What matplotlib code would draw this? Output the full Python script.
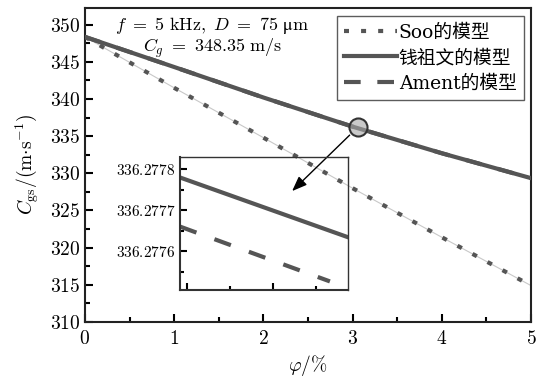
import matplotlib
matplotlib.use("Agg")
import matplotlib.pyplot as plt
from matplotlib.ticker import MultipleLocator, FuncFormatter

plt.rcParams['font.family'] = ['DejaVu Serif', 'Noto Sans CJK SC']
plt.rcParams['mathtext.fontset'] = 'cm'

# main curves
phi = [0, 1, 2, 3, 4, 5]
c_qian = [348.35, 344.3, 340.2, 336.28, 332.7, 329.35]
c_soo = [348.35, 341.5, 334.8, 328.0, 321.4, 314.9]
c_ament = [348.35, 344.3, 340.2, 336.28, 332.7, 329.35]

# zoomed-in region (inset), x is a local coordinate
ins_x_qian = [-0.078, 1.876]
ins_qian = [336.27778, 336.277634]
ins_x_ament = [-0.078, 1.666]
ins_ament = [336.27766, 336.277526]

dark = '#555555'

fig = plt.figure(figsize=(5.41, 3.76), dpi=100)
ax = fig.add_axes([0.157, 0.1436, 0.8245, 0.8364])

ax.plot(phi, c_soo, color='#c8c8c8', lw=0.8, zorder=2)
ax.plot(phi, c_soo, color=dark, lw=3, ls=(0, (1.2, 2.9)), label='Soo的模型', zorder=3)
ax.plot(phi, c_qian, color=dark, lw=3, label='钱祖文的模型', zorder=4)
ax.plot(phi, c_ament, color=dark, lw=3, ls=(0, (4, 4)), label='Ament的模型', zorder=3.5)

ax.set_xlim(0, 5)
ax.set_ylim(310, 352.3)
ax.xaxis.set_major_locator(MultipleLocator(1))
ax.xaxis.set_minor_locator(MultipleLocator(0.5))
ax.yaxis.set_major_locator(MultipleLocator(5))
ax.yaxis.set_minor_locator(MultipleLocator(2.5))
fmt = FuncFormatter(lambda v, p: r'$%g$' % v)
ax.xaxis.set_major_formatter(fmt)
ax.yaxis.set_major_formatter(fmt)
ax.tick_params(which='both', direction='in', width=1.5, labelsize=14)
ax.tick_params(which='major', length=6)
ax.tick_params(which='minor', length=3.5)
ax.tick_params(axis='x', which='major', pad=6)
for s in ax.spines.values():
    s.set_linewidth(1.5)
    s.set_color('#222222')

ax.set_xlabel(r'$\varphi/\%$', fontsize=14, labelpad=3)
ax.set_ylabel(r'$C_{\mathrm{gs}}/(\mathrm{m{\cdot}s^{-1}})$', fontsize=14, labelpad=6)

ax.text(0.285, 0.975, '$f\\ =\\ 5\\ \\mathrm{kHz},\\ D\\ =\\ 75\\ \\mathrm{\u03bcm}$\n$C_g\\ =\\ 348.35\\ \\mathrm{m/s}$',
        transform=ax.transAxes, ha='center', va='top', fontsize=13, linespacing=1.05,
        multialignment='center')

leg = ax.legend(loc='upper right', bbox_to_anchor=(0.993, 0.985),
                prop={'family': ['DejaVu Serif', 'Noto Sans CJK SC'], 'size': 13.5},
                handlelength=2.8, handletextpad=0.1, borderpad=0.4, labelspacing=0.4,
                fancybox=False, frameon=True, borderaxespad=0.2)
leg.get_frame().set_edgecolor('#333333')
leg.get_frame().set_linewidth(1.0)

# highlight circle and arrow
ax.plot([3.06], [336.2], 'o', ms=13, mfc=(0.65, 0.65, 0.65, 0.6), mec='#333333', mew=1.5, zorder=6)
ax.annotate('', xy=(2.30, 327.35), xytext=(2.99, 335.4),
            arrowprops=dict(arrowstyle='-|>,head_length=0.9,head_width=0.35', color='black', lw=1),
            zorder=6)

# inset
ins = fig.add_axes([0.3327, 0.2287, 0.3105, 0.3537])
ins.set_facecolor('none')
ins.plot(ins_x_qian, ins_qian, color=dark, lw=3)
ins.plot(ins_x_ament, ins_ament, color=dark, lw=3, ls=(0, (4.2, 4.6)))
ins.set_xlim(-0.078, 1.876)
ins.set_ylim(336.277505, 336.27783)
ins.xaxis.set_major_locator(MultipleLocator(1))
ins.xaxis.set_minor_locator(MultipleLocator(0.5))
ins.yaxis.set_major_locator(MultipleLocator(0.0001))
ins.yaxis.set_minor_locator(MultipleLocator(0.00005))
ins.yaxis.set_major_formatter(FuncFormatter(lambda v, p: r'$%.4f$' % v))
ins.xaxis.set_major_formatter(FuncFormatter(lambda v, p: ''))
ins.tick_params(which='both', direction='in', width=1.5, labelsize=11)
ins.tick_params(which='major', length=5)
ins.tick_params(which='minor', length=3)
ins.spines['left'].set_linewidth(1.5)
ins.spines['bottom'].set_linewidth(1.5)
ins.spines['top'].set_linewidth(1.0)
ins.spines['right'].set_linewidth(1.0)
for s in ins.spines.values():
    s.set_color('#333333')

fig.savefig('out.png', dpi=100)
